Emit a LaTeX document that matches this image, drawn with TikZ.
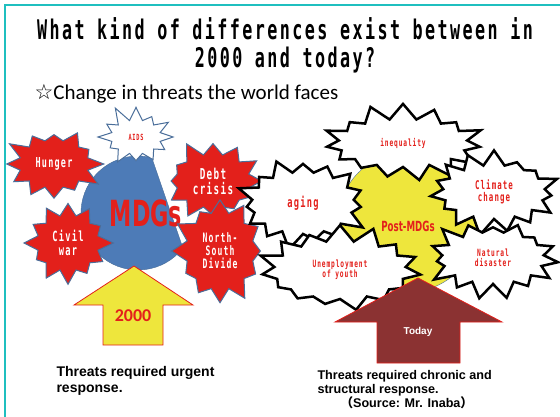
\documentclass[tikz,border=0pt]{standalone}
\usepackage{fontspec}
\setmainfont{Liberation Sans}
\newfontfamily\gothfont[FakeStretch=0.62, LetterSpace=9]{DejaVu Sans Mono}
\newfontfamily\heavyfont[FakeStretch=0.62]{DejaVu Sans}
\newfontfamily\calfont{Carlito}
\newfontfamily\symfont{DejaVu Sans}
\newfontfamily\cjk{Noto Sans CJK JP}
\usetikzlibrary{shapes.symbols,positioning}
\definecolor{frameteal}{HTML}{1FBFBF}
\definecolor{burstred}{HTML}{E3201B}
\definecolor{burstedge}{HTML}{4A6E9A}
\definecolor{mdgblue}{HTML}{4D7BB7}
\definecolor{postyellow}{HTML}{EEE63C}
\definecolor{todaybrown}{HTML}{8B3232}
\newcommand{\goth}[1]{\gothfont\bfseries\fontsize{#1}{#1}\selectfont}
\newcommand{\heavy}[1]{\heavyfont\bfseries\fontsize{#1}{#1}\selectfont}

\begin{document}
\begin{tikzpicture}[x=1pt,y=-1pt,
  redburst/.style={starburst, starburst points=12, starburst point height=17pt,
    fill=burstred, draw=burstedge, line width=1pt, text=white, align=center, inner sep=0pt},
  whiteburst/.style={redburst, fill=white, text=burstred},
  blackburst/.style={starburst, starburst points=15, starburst point height=18pt,
    fill=white, draw=black, line width=2.5pt, text=burstred, align=center, inner sep=0pt},
  bigarrow/.style={line width=0.8pt, draw=burstred}]
\useasboundingbox (0,0) rectangle (560,417);
\draw[frameteal, line width=2.5pt] (5,417) -- (5,5) -- (560,5);

\node[anchor=base, font=\goth{27}] (title1) at (285,40) {What kind of differences exist between in};
\node[anchor=base, font=\goth{27}] (title2) at (285,68) {2000 and today?};
\node[anchor=base west, font=\calfont\fontsize{21}{24}\selectfont] (subtitle) at (31,100)
  {{\symfont ☆}Change in threats the world faces};

% 2000 side
\fill[mdgblue, draw=burstedge] (138,213) ++(38:57) arc[start angle=38, end angle=284, radius=57] -- cycle;
\node[font=\heavy{36}, text=burstred] (mdgs) at (146,213) {MDGs};
\fill[postyellow, draw=burstred, bigarrow] (134,266) -- (193,305) -- (163,305) -- (163,345)
  -- (103,345) -- (103,305) -- (74,305) -- cycle;
\node[font=\calfont\bfseries\fontsize{18}{20}\selectfont, text=burstred] (year) at (133,316) {2000};

\node[redburst, random starburst=3, minimum width=104pt, minimum height=82pt, font=\goth{13.7}] (hunger) at (54,164) {Hunger};
\node[whiteburst, random starburst=11, minimum width=84pt, minimum height=68pt, font=\goth{8.5}] (aids) at (136,137) {AIDS};
\node[redburst, random starburst=5, minimum width=108pt, minimum height=88pt, font=\goth{15}] (debt) at (213,181) {Debt\\crisis};
\node[redburst, random starburst=8, minimum width=96pt, minimum height=90pt, font=\goth{14}] (civilwar) at (68,243) {Civil\\war};
\node[redburst, random starburst=21, minimum width=102pt, minimum height=112pt, font=\goth{13}] (northsouth) at (220,251) {North-\\South\\Divide};

% today side
\fill[postyellow, draw=burstedge] (408,222) circle[radius=70];
\node[blackburst, random starburst=4, minimum width=165pt, minimum height=84pt, font=\goth{10}] (inequality) at (403,143) {inequality};
\node[blackburst, random starburst=9, minimum width=138pt, minimum height=98pt, font=\goth{14}] (aging) at (303,203) {aging};
\node[blackburst, random starburst=14, minimum width=138pt, minimum height=90pt, font=\goth{12}] (climate) at (494,192) {Climate\\change};
\node[blackburst, random starburst=17, minimum width=168pt, minimum height=94pt, font=\goth{10}] (unemployment) at (340,270) {Unemployment\\of youth};
\node[blackburst, random starburst=23, minimum width=138pt, minimum height=88pt, font=\goth{10}] (disaster) at (493,258) {Natural\\disaster};
\node[font=\heavy{14}, text=burstred] (postmdgs) at (408,226) {Post-MDGs};
\fill[todaybrown, bigarrow] (418,278) -- (502,322) -- (460,322) -- (460,363)
  -- (377,363) -- (377,322) -- (335,322) -- cycle;
\node[font=\bfseries\fontsize{10}{12}\selectfont, text=white] (today) at (418,332) {Today};

\node[anchor=base west, align=left, font=\bfseries\fontsize{14}{16}\selectfont] (urgent) at (53,392)
  {Threats required urgent\\response.};
\node[anchor=base west, align=left, font=\bfseries\fontsize{12.6}{13.5}\selectfont] (chronic) at (314,393)
  {Threats required chronic and\\structural response.};
\node[anchor=base west, font=\bfseries\fontsize{12.6}{14}\selectfont] (source) at (337,407)
  {{\cjk （}Source: Mr. Inaba{\cjk ）}};
\end{tikzpicture}
\end{document}
